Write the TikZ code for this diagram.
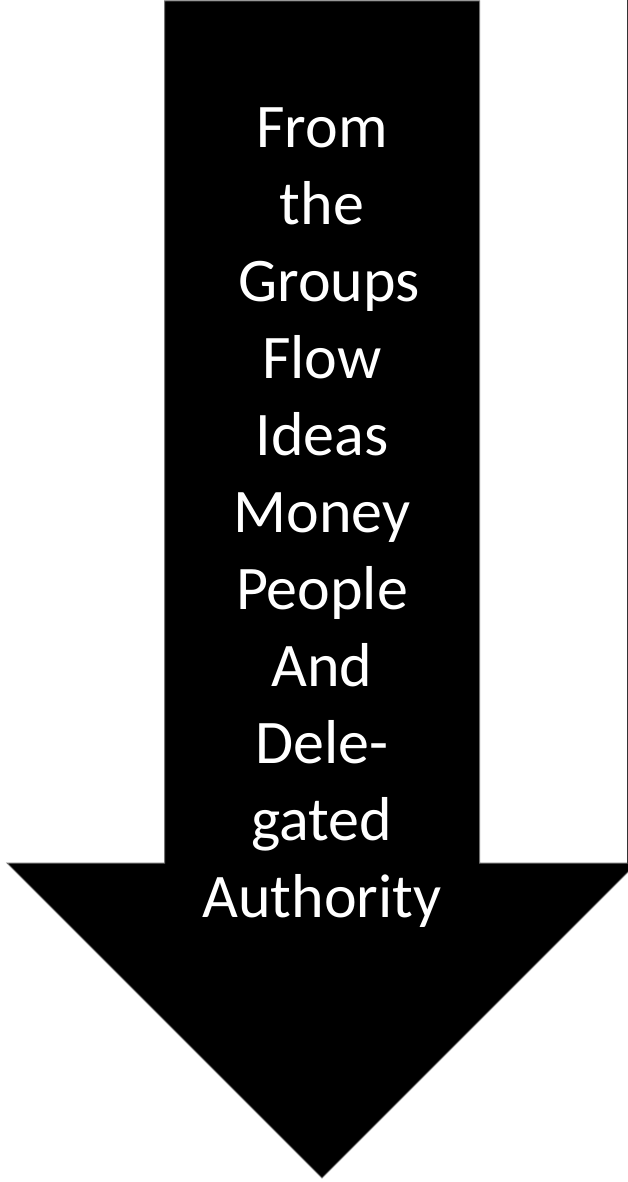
\documentclass[tikz,border=0pt]{standalone}
\usepackage{fontspec}
\setmainfont{Carlito}
\begin{document}
\begin{tikzpicture}[x=1pt,y=-1pt,
  lbl/.style={text=white,anchor=base,inner sep=0pt,font=\fontsize{62}{75}\selectfont}]
\useasboundingbox (0,0) rectangle (628,1182);
\clip (0,0) rectangle (628,1182);
\fill[white] (0,0) rectangle (628,1182);
\draw[fill=black,draw=black!55,line width=1pt]
  (164.5,1) -- (479.5,1) -- (479.5,863) -- (637,863) -- (322,1178) -- (7,863) -- (164.5,863) -- cycle;
\coordinate (ftop) at (627.5,0);
\coordinate (fbot) at (627.5,864);
\draw[black!80,line width=1.2pt] (ftop) -- (fbot);
\foreach \t [count=\i from 0] in {From,the,{\ Groups},Flow,Ideas,Money,People,And,Dele-,gated,Authority}{
  \node[lbl] (l\i) at (322,148+76.9*\i) {\t};
}
\end{tikzpicture}
\end{document}
